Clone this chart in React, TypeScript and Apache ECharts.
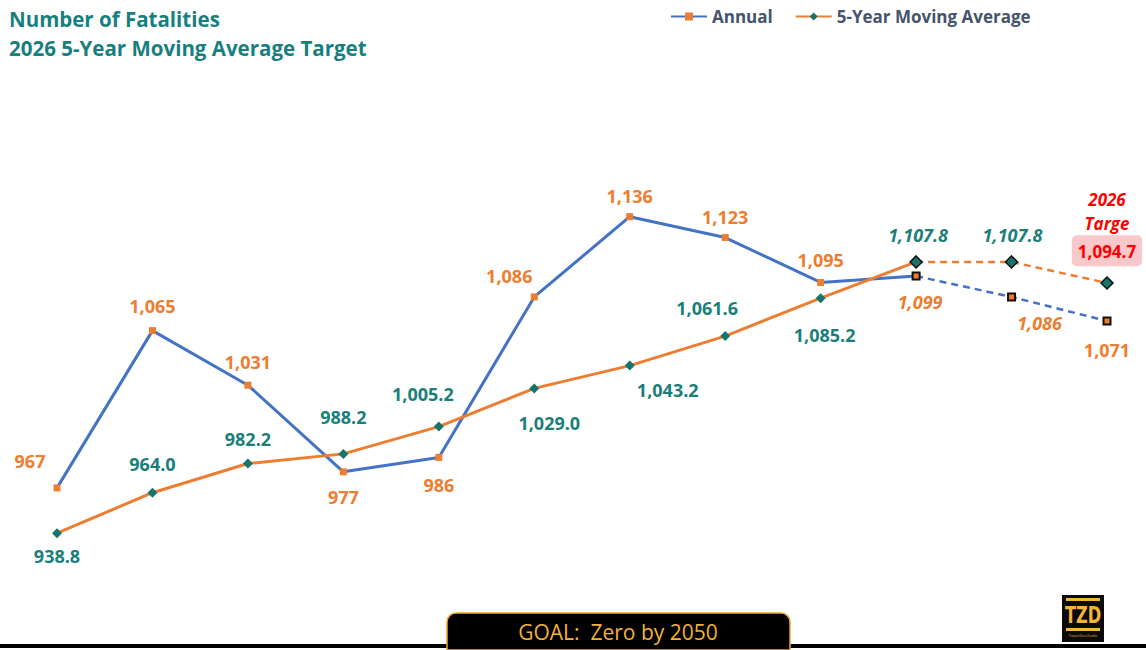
import React, { useEffect, useRef } from "react";
import * as echarts from "echarts";

// ---- data ----
const years = ["2015", "2016", "2017", "2018", "2019", "2020", "2021", "2022", "2023", "2024", "2025", "2026"];
const annual = [967, 1065, 1031, 977, 986, 1086, 1136, 1123, 1095, 1099, 1086, 1071];
const movingAvg = [938.8, 964.0, 982.2, 988.2, 1005.2, 1029.0, 1043.2, 1061.6, 1085.2, 1107.8, 1107.8, 1094.7];
const lastSolidIndex = 9; // projection (dashed) starts here
const titleLines = ["Number of Fatalities", "2026 5-Year Moving Average Target"];
const targetTitle = ["2026", "Targe"];
const goalText = "GOAL:  Zero by 2050";

// ---- label placement (styling, px offsets from each point) ----
const annualLabelOffsets = [
  [-27, -27], [0, -25], [0, -23], [0, 25], [0, 28], [-25, -21],
  [0, -21], [0, -21], [0, -22], [4, 26], [28, 26], [0, 29],
];
const avgLabelOffsets = [
  [0, 23], [0, -29], [0, -25], [0, -37], [-16, -33], [15, 35],
  [38, 24], [-18, -28], [4, 37], [2, -27], [1, -27], [0, 0],
];

const BLUE = "#4472C4";
const ORANGE = "#ED7D31";
const TEAL = "#1B7F79";
const MARK_TEAL = "#17746C";
const FONT = "'Open Sans', 'Noto Sans', sans-serif";

const fmtInt = (v: number) => v.toLocaleString("en-US");
const fmtDec = (v: number) =>
  v.toLocaleString("en-US", { minimumFractionDigits: 1, maximumFractionDigits: 1 });

function labelFor(text: string, color: string, off: number[], italic: boolean) {
  return {
    show: true,
    position: "inside",
    offset: off,
    formatter: text,
    color,
    fontFamily: FONT,
    fontWeight: "bold",
    fontStyle: italic ? "italic" : "normal",
    fontSize: 18,
    align: "center",
    verticalAlign: "middle",
  };
}

export default function App() {
  const ref = useRef<HTMLDivElement>(null);

  useEffect(() => {
    if (!ref.current) return;
    const chart = echarts.init(ref.current, null, { renderer: "svg" });

    const annualSolid = annual.map((v, i) =>
      i > lastSolidIndex
        ? "-"
        : {
            value: v,
            label: i < lastSolidIndex ? labelFor(fmtInt(v), ORANGE, annualLabelOffsets[i], false) : { show: false },
          }
    );
    const annualProj = annual.map((v, i) =>
      i < lastSolidIndex
        ? "-"
        : { value: v, label: labelFor(fmtInt(v), ORANGE, annualLabelOffsets[i], i < annual.length - 1) }
    );
    const avgSolid = movingAvg.map((v, i) =>
      i > lastSolidIndex
        ? "-"
        : {
            value: v,
            label: i < lastSolidIndex ? labelFor(fmtDec(v), TEAL, avgLabelOffsets[i], false) : { show: false },
          }
    );
    const avgProj = movingAvg.map((v, i) => {
      if (i < lastSolidIndex) return "-";
      if (i === movingAvg.length - 1) {
        return {
          value: v,
          label: {
            show: true,
            position: "top",
            distance: 10,
            formatter: `{t|${targetTitle[0]}}\n{t|${targetTitle[1]}}\n{b|${fmtDec(v)}}`,
            rich: {
              t: {
                color: "#FF0000",
                fontFamily: FONT,
                fontWeight: "bold",
                fontStyle: "italic",
                fontSize: 17,
                lineHeight: 24,
                align: "center",
              },
              b: {
                color: "#FF0000",
                fontFamily: FONT,
                fontWeight: "bold",
                fontSize: 17,
                backgroundColor: "#F9C8CA",
                borderRadius: 5,
                padding: [8, 6, 6, 6],
                align: "center",
              },
            },
          },
        };
      }
      return { value: v, label: labelFor(fmtDec(v), TEAL, avgLabelOffsets[i], true) };
    });

    chart.setOption({
      animation: false,
      backgroundColor: "#FFFFFF",
      title: [
        {
          text: titleLines.join("\n"),
          left: 4,
          top: -1,
          textStyle: {
            color: "#17807E",
            fontFamily: FONT,
            fontWeight: "bold",
            fontSize: 20.5,
            lineHeight: 29,
          },
        },
      ],
      legend: {
        data: [
          { name: "Annual" },
          { name: "5-Year Moving Average" },
        ],
        left: 665,
        top: 3,
        itemWidth: 36,
        itemHeight: 10,
        itemGap: 22,
        textStyle: { color: "#44546A", fontFamily: FONT, fontWeight: "bold", fontSize: 17 },
      },
      grid: { left: 57, right: 39, top: 0, bottom: 0 },
      xAxis: {
        type: "category",
        data: years,
        boundaryGap: false,
        show: false,
      },
      yAxis: {
        type: "value",
        min: 866,
        max: 1271,
        show: false,
      },
      series: [
        {
          name: "Annual",
          type: "line",
          data: annualSolid,
          symbol: "rect",
          symbolSize: 7,
          lineStyle: { color: BLUE, width: 3 },
          itemStyle: { color: ORANGE },
          z: 2,
        },
        {
          name: "Annual projection",
          type: "line",
          data: annualProj,
          symbol: "rect",
          symbolSize: 7,
          lineStyle: { color: BLUE, width: 2.5, type: [7, 5] },
          itemStyle: { color: ORANGE, borderColor: "#111", borderWidth: 2 },
          z: 3,
        },
        {
          name: "5-Year Moving Average",
          type: "line",
          data: avgSolid,
          symbol: "diamond",
          symbolSize: 10,
          lineStyle: { color: ORANGE, width: 3 },
          itemStyle: { color: MARK_TEAL },
          z: 4,
        },
        {
          name: "5-Year Moving Average projection",
          type: "line",
          data: avgProj,
          symbol: "diamond",
          symbolSize: 12,
          lineStyle: { color: ORANGE, width: 2.5, type: [7, 5] },
          itemStyle: { color: MARK_TEAL, borderColor: "#111", borderWidth: 1.5 },
          z: 5,
        },
      ],
      graphic: [
        // bottom rule
        { type: "rect", shape: { x: 0, y: 644, width: 1146, height: 4 }, style: { fill: "#000" }, z: 10 },
        // goal banner
        {
          type: "rect",
          shape: { x: 447, y: 613, width: 343, height: 37, r: [9, 9, 0, 0] },
          style: { fill: "#000", stroke: "#E8A82A", lineWidth: 1.5 },
          z: 11,
        },
        {
          type: "text",
          x: 618,
          y: 632,
          style: {
            text: goalText,
            fill: "#F0B23A",
            font: `21px ${FONT}`,
            textAlign: "center",
            textVerticalAlign: "middle",
          },
          z: 12,
        },
        // TZD logo
        {
          type: "group",
          z: 12,
          children: [
            { type: "rect", shape: { x: 1062, y: 595, width: 42, height: 47 }, style: { fill: "#0A0A0A" } },
            { type: "rect", shape: { x: 1066, y: 598, width: 34, height: 3 }, style: { fill: "#F2B632" } },
            {
              type: "text",
              x: 1083,
              y: 615,
              scaleY: 1.25,
              style: {
                text: "TZD",
                fill: "#F2B632",
                font: `bold 18px 'DejaVu Sans Condensed', ${FONT}`,
                textAlign: "center",
                textVerticalAlign: "middle",
              },
            },
            { type: "rect", shape: { x: 1066, y: 628, width: 34, height: 3 }, style: { fill: "#F2B632" } },
            {
              type: "text",
              x: 1083,
              y: 636,
              style: {
                text: "Toward Zero Deaths",
                fill: "#F2B632",
                font: `3px ${FONT}`,
                textAlign: "center",
                textVerticalAlign: "middle",
              },
            },
          ],
        },
      ],
    });

    return () => chart.dispose();
  }, []);

  return (
    <div
      ref={ref}
      style={{ position: "fixed", left: 0, top: 0, width: 1146, height: 650 }}
    />
  );
}
